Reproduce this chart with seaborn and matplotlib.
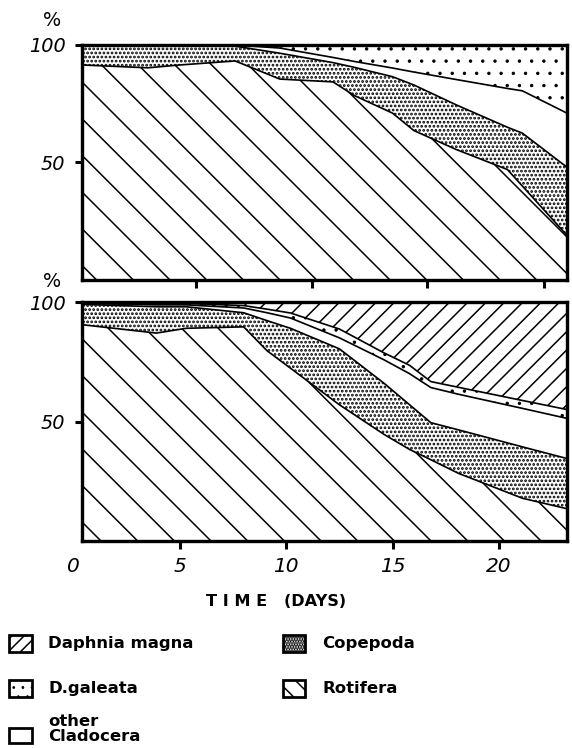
import numpy as np
import pandas as pd
import matplotlib
matplotlib.use("Agg")
import matplotlib.pyplot as plt
import matplotlib.transforms as mtransforms
from matplotlib.patches import Rectangle
import seaborn as sns

# ---------------- data (percent of zooplankton per group) ----------------
layer_names = ["Rotifera", "Copepoda", "other Cladocera", "D.galeata", "Daphnia magna"]

# upper panel
days_a = [0.4, 3.5, 5.0, 7.6, 9.7, 12.2, 13.2, 15.0, 16.0, 18.0, 20.4, 21.1, 23.2]
rotifera_a = [91.5, 90.3, 91.5, 93.2, 85.5, 84.3, 78.5, 71.0, 63.6, 55.5, 47.0, 40.0, 19.0]
copepoda_a = [8.5, 9.7, 8.5, 6.3, 11.0, 8.2, 12.0, 15.5, 19.4, 19.0, 18.0, 22.5, 29.0]
other_a = [0.0, 0.0, 0.0, 0.5, 2.2, 2.2, 2.5, 3.7, 5.5, 10.8, 16.5, 18.0, 23.0]
galeata_a = [0.0, 0.0, 0.0, 0.0, 1.3, 5.3, 7.0, 9.8, 11.5, 14.7, 18.5, 19.5, 29.0]
magna_a = [0.0] * 13

# lower panel
days_b = [0.4, 3.9, 5.3, 8.0, 9.1, 10.2, 12.5, 14.6, 15.8, 16.8, 18.1, 21.1, 23.2]
rotifera_b = [90.5, 87.0, 89.0, 89.6, 79.6, 72.3, 57.0, 44.6, 38.3, 34.0, 28.3, 17.9, 13.5]
copepoda_b = [8.5, 11.0, 9.0, 5.9, 12.6, 16.7, 23.4, 21.4, 18.7, 15.5, 18.2, 21.5, 21.0]
other_b = [0.4, 0.8, 0.8, 2.0, 3.3, 4.3, 4.6, 9.8, 13.0, 14.7, 14.9, 16.1, 16.8]
galeata_b = [0.3, 0.6, 0.6, 1.0, 1.5, 2.1, 3.7, 2.9, 3.5, 2.5, 2.9, 3.3, 3.7]
magna_b = [0.3, 0.6, 0.6, 1.5, 3.0, 4.6, 11.3, 21.3, 26.5, 33.3, 35.7, 41.2, 45.0]

x_ticks = [5, 10, 15, 20]
x_tick_labels = ["5", "10", "15", "20"]
top_panel_ticks = [5.75, 11.2, 16.6, 22.1]
y_ticks = [50, 100]
y_tick_labels = ["50", "100"]

# ---------------- style ----------------
sns.set_theme(style="ticks")
plt.rcParams["font.family"] = ["DejaVu Sans"]
plt.rcParams["hatch.linewidth"] = 0.5
for key in ["text.color", "axes.labelcolor", "xtick.color", "ytick.color",
            "axes.edgecolor"]:
    plt.rcParams[key] = "black"

HATCH = {
    "Rotifera": "\\\\",
    "Copepoda": ".........",
    "other Cladocera": None,
    "D.galeata": "...",
    "Daphnia magna": "////",
}
HATCH_LW = {
    "Rotifera": 0.5,
    "Copepoda": 0.6,
    "other Cladocera": 0.5,
    "D.galeata": 0.3,
    "Daphnia magna": 0.5,
}
LEGEND_HATCH = {
    "Rotifera": "\\\\\\\\",
    "Copepoda": "..............",
    "other Cladocera": None,
    "D.galeata": "....",
    "Daphnia magna": "//////",
}
LEGEND_HLW = dict(HATCH_LW, Copepoda=0.75)


def set_hlw(artist, lw):
    if hasattr(artist, "set_hatch_linewidth"):
        try:
            artist.set_hatch_linewidth(lw)
        except Exception:
            pass


DPI = 220
W, H = 572, 748
fig = plt.figure(figsize=(W / DPI, H / DPI), dpi=DPI, facecolor="white")


def rect(l, t, r, b):
    return [l / W, 1 - b / H, (r - l) / W, (b - t) / H]


ax1 = fig.add_axes(rect(82, 45, 567, 280))
ax2 = fig.add_axes(rect(82, 302, 567, 541))


def draw(ax, days, layers):
    base = np.zeros(len(days))
    rows = []
    for name, vals in zip(layer_names, layers):
        top = base + np.asarray(vals, dtype=float)
        pc = ax.fill_between(days, base, top, facecolor="white", edgecolor="black",
                             hatch=HATCH[name], linewidth=0)
        set_hlw(pc, HATCH_LW[name])
        rows += [dict(day=d, pct=t, layer=name) for d, t in zip(days, top)]
        base = top
    df = pd.DataFrame(rows)
    sns.lineplot(data=df, x="day", y="pct", hue="layer",
                 palette=["black"] * len(layer_names), linewidth=0.55,
                 legend=False, ax=ax, estimator=None, sort=False)
    ax.set_xlim(0.4, 23.2)
    ax.set_ylim(0, 100)
    ax.set_xlabel("")
    ax.set_ylabel("")
    for s in ax.spines.values():
        s.set_visible(True)
        s.set_linewidth(1.1)
        s.set_color("black")
    ax.set_yticks(y_ticks)
    ax.set_yticklabels(y_tick_labels, fontsize=6.3, style="italic")
    ax.tick_params(axis="y", direction="out", length=2.2, width=1.0, pad=3.2,
                   colors="black")
    ax.tick_params(axis="x", direction="out", length=2.6, width=1.0, pad=2.8,
                   colors="black")


draw(ax1, days_a, [rotifera_a, copepoda_a, other_a, galeata_a, magna_a])
draw(ax2, days_b, [rotifera_b, copepoda_b, other_b, galeata_b, magna_b])

ax1.set_xticks(top_panel_ticks)
ax1.tick_params(axis="x", labelbottom=False)
ax2.set_xticks(x_ticks)
ax2.set_xticklabels(x_tick_labels, fontsize=6.6, style="italic")

trans = mtransforms.blended_transform_factory(ax2.transData, fig.transFigure)
ax2.text(0, 1 - 566 / H, "0", transform=trans, ha="center", va="center",
         fontsize=6.6, style="italic", clip_on=False)

# percent signs
fig.text(52 / W, 1 - 20 / H, "%", ha="center", va="center", fontsize=6.3)
fig.text(52 / W, 1 - 281 / H, "%", ha="center", va="center", fontsize=6.3)

# axis title
fig.text(276 / W, 1 - 602 / H, "T I M E   (DAYS)", ha="center", va="center",
         fontsize=5.3, fontweight="bold")

# legend
legend_items = [
    ("Daphnia magna", 9, 635, 32, 652, 48),
    ("Copepoda", 283, 635, 305, 652, 322),
    ("D.galeata", 9, 680, 32, 697, 48),
    ("Rotifera", 283, 680, 305, 697, 322),
    ("other Cladocera", 9, 728, 32, 743, 48),
]
for name, l, t, r, b, tx in legend_items:
    p = Rectangle((l / W, 1 - b / H), (r - l) / W, (b - t) / H,
                  transform=fig.transFigure, facecolor="white",
                  edgecolor="black", hatch=LEGEND_HATCH[name], lw=0.9)
    set_hlw(p, LEGEND_HLW[name])
    fig.add_artist(p)
    label = "other\nCladocera" if name == "other Cladocera" else name
    yc = (t + b) / 2 if name != "other Cladocera" else 729
    fig.text(tx / W, 1 - yc / H, label, ha="left", va="center",
             fontsize=5.4, fontweight="bold", linespacing=1.05)

fig.savefig("out.png", dpi=DPI, facecolor="white")
